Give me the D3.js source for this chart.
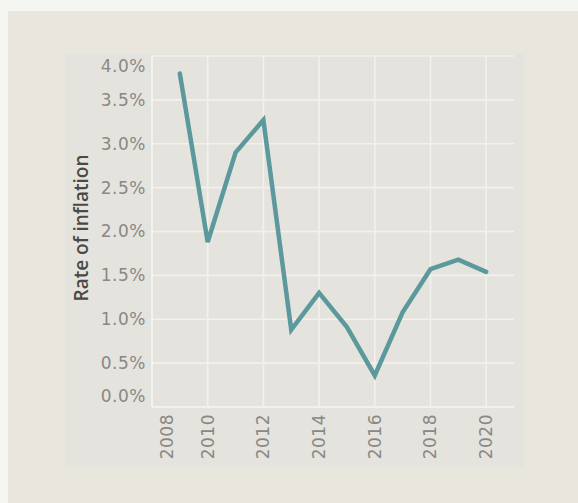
<!DOCTYPE html>
<html>
<head>
<meta charset="utf-8">
<script src="https://cdn.jsdelivr.net/npm/d3@7/dist/d3.min.js"></script>
<style>
  html, body { margin: 0; padding: 0; background: #f5f5f1; }
  svg { display: block; }
  .tick-label { font-family: "DejaVu Sans", sans-serif; font-size: 17px; fill: #8a8884; letter-spacing: 0.5px; }
  .axis-title { font-family: "Open Sans", sans-serif; font-size: 19px; font-weight: 600; fill: #4a4946; }
</style>
</head>
<body>
<svg id="chart" width="578" height="503"></svg>
<script>
// Annual inflation rate, 2009–2020
const years = [2009, 2010, 2011, 2012, 2013, 2014, 2015, 2016, 2017, 2018, 2019, 2020];
const inflation = [3.8, 1.88, 2.9, 3.27, 0.88, 1.3, 0.91, 0.36, 1.08, 1.57, 1.68, 1.54];
const yTicks = [0, 0.5, 1, 1.5, 2, 2.5, 3, 3.5, 4];
const xTicks = [2008, 2010, 2012, 2014, 2016, 2018, 2020];

const svg = d3.select("#chart");

// Card and inner panel backgrounds
svg.append("rect").attr("x", 8).attr("y", 11).attr("width", 570).attr("height", 492).attr("fill", "#e9e6dd");
svg.append("rect").attr("x", 65).attr("y", 54).attr("width", 459).attr("height", 413).attr("fill", "#e5e3de");

const plot = { left: 152, right: 514, top: 56, bottom: 407 };

const x = d3.scaleLinear().domain([2008, 2021]).range([plot.left, plot.right]);
const y = d3.scaleLinear().domain([0, 4]).range([plot.bottom, plot.top]);

const grid = svg.append("g");
// Horizontal gridlines
grid.selectAll("line.h").data(yTicks).join("line")
  .attr("class", "h")
  .attr("x1", plot.left).attr("x2", plot.right)
  .attr("y1", d => y(d)).attr("y2", d => y(d))
  .attr("stroke", d => d === 0 ? "#f7f6f2" : "#f3f1ec").attr("stroke-width", 1.6);
// Vertical gridlines
grid.selectAll("line.v").data(xTicks).join("line")
  .attr("class", "v")
  .attr("x1", d => x(d)).attr("x2", d => x(d))
  .attr("y1", plot.top).attr("y2", plot.bottom)
  .attr("stroke", d => d === 2008 ? "#f7f6f2" : "#f3f1ec").attr("stroke-width", 1.6);

// Y tick labels (end labels kept inside the plot extent)
svg.append("g").selectAll("text").data(yTicks).join("text")
  .attr("class", "tick-label")
  .attr("x", 146)
  .attr("y", d => Math.min(Math.max(y(d), plot.top + 10), plot.bottom - 11))
  .attr("dy", "0.35em")
  .attr("text-anchor", "end")
  .text(d => d3.format(".1f")(d) + "%");

// X tick labels, rotated
svg.append("g").selectAll("text").data(xTicks).join("text")
  .attr("class", "tick-label")
  .attr("transform", d => `translate(${Math.max(x(d), plot.left + 15)},${plot.bottom + 7}) rotate(-90)`)
  .attr("dy", "0.35em")
  .attr("text-anchor", "end")
  .text(d => d);

// Axis title
svg.append("text")
  .attr("class", "axis-title")
  .attr("transform", "translate(81,228) rotate(-90)")
  .attr("dy", "0.35em")
  .attr("text-anchor", "middle")
  .text("Rate of inflation");

// Inflation line
const line = d3.line().x((d, i) => x(years[i])).y(d => y(d));
svg.append("path")
  .datum(inflation)
  .attr("d", line)
  .attr("fill", "none")
  .attr("stroke", "#5b999c")
  .attr("stroke-width", 4.5)
  .attr("stroke-linejoin", "miter")
  .attr("stroke-linecap", "round");
</script>
</body>
</html>
